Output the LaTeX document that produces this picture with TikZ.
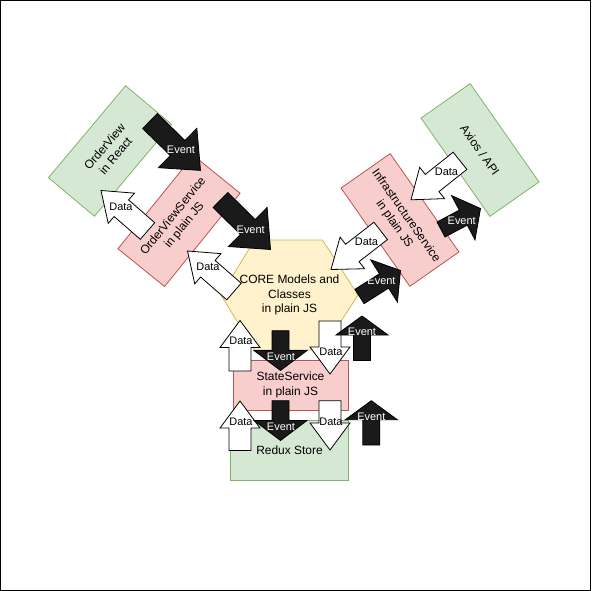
\documentclass[tikz,border=0pt]{standalone}
\usepackage{fontspec}
\setmainfont{Liberation Sans}
\usetikzlibrary{calc}
\definecolor{gfill}{HTML}{D5E8D4}
\definecolor{gline}{HTML}{82B366}
\definecolor{pfill}{HTML}{F8CECC}
\definecolor{pline}{HTML}{B85450}
\definecolor{yfill}{HTML}{FFF2CC}
\definecolor{yline}{HTML}{D6B656}
\definecolor{evblack}{HTML}{1A1A1A}
\newcommand\barrow[7]{%
  \coordinate (#2t) at (#3);
  \coordinate (#2h) at (#4);
  \coordinate (#2b) at ($(#2h)!#7bp!(#2t)$);
  \path[#1] ($(#2t)!#5bp!90:(#2h)$) -- ($(#2b)!#5bp!90:(#2h)$) -- ($(#2b)!#6bp!90:(#2h)$) -- (#2h)
    -- ($(#2b)!#6bp!-90:(#2h)$) -- ($(#2b)!#5bp!-90:(#2h)$) -- ($(#2t)!#5bp!-90:(#2h)$) -- cycle;
}
\tikzset{
  box/.style={minimum width=120bp, minimum height=60bp, inner sep=0pt, align=center, line width=0.8bp,
    font=\fontsize{12}{14.4}\selectfont},
  gbox/.style={box, fill=gfill, draw=gline},
  pbox/.style={box, fill=pfill, draw=pline},
  evt/.style={fill=evblack, draw=black, line width=0.8bp},
  dat/.style={fill=white, draw=black, line width=0.8bp},
  lab/.style={font=\fontsize{11}{13}\selectfont, inner sep=0pt},
  evlab/.style={lab, text=white},
}
\begin{document}
\begin{tikzpicture}[x=1bp,y=-1bp]
\useasboundingbox (0,0) rectangle (591,591);
\draw[line width=1bp] (0.5,0.5) rectangle (590.5,590.5);

% boxes
\node[gbox, rotate=50] (ov) at (110,151) {OrderView\\in React};
\node[pbox, rotate=51] (ovs) at (179,221) {OrderViewService\\in plain JS};
\node[gbox, rotate=-55] (axios) at (480,150) {Axios / API};
\node[pbox, rotate=-55] (infra) at (400,220) {InfrastructureService\\in plain JS};
\coordinate (corec) at (289.5,295);
\draw[fill=yfill, draw=yline, line width=0.8bp]
  ($(corec)+(-68.5,0)$) -- ($(corec)+(-35,-55)$) -- ($(corec)+(33,-55)$) -- ($(corec)+(68.5,0)$)
  -- ($(corec)+(33,55)$) -- ($(corec)+(-35,55)$) -- cycle;
\node[align=center, font=\fontsize{12}{14.4}\selectfont, inner sep=0pt] (core) at (corec) {CORE Models and\\Classes\\in plain JS};
\node[pbox, minimum width=115bp, minimum height=50bp] (state) at (290.5,385) {StateService\\in plain JS};
\node[gbox, minimum width=118bp, minimum height=60bp] (redux) at (289.5,450.3) {Redux Store};

% arrows
\barrow{evt}{a1}{150,121}{200.5,170.4}{10.5}{27.5}{32}
\barrow{dat}{a2}{147.5,231}{101,190.5}{11}{20}{27}
\barrow{evt}{a3}{220.5,200}{270.5,249.5}{10.5}{27.5}{32}
\barrow{dat}{a4}{234,291.5}{187.5,251}{11}{20}{27}
\barrow{dat}{a5}{460,160.8}{411,199.8}{11}{20}{27}
\barrow{evt}{a6}{441,229.5}{480.5,208.5}{8.5}{25}{19.5}
\barrow{dat}{a7}{380.7,230.9}{331,269.5}{11}{20}{27}
\barrow{evt}{a8}{359.5,296.5}{400.5,270.5}{8.5}{25}{19.5}
\barrow{dat}{a9}{240,371}{240,320.5}{11}{20}{27}
\barrow{evt}{a10}{280.5,330.7}{280.5,370.5}{8.5}{26.5}{20}
\barrow{dat}{a11}{330,321}{330,374}{11}{20}{27}
\barrow{evt}{a12}{362,360.5}{362,316}{8.5}{26}{19}
\barrow{dat}{a13}{240,450.5}{240,401}{11}{20}{27}
\barrow{evt}{a14}{280.5,400.7}{280.5,440.5}{8.5}{26.5}{20}
\barrow{dat}{a15}{330,400.7}{330,450}{11}{20}{27}
\barrow{evt}{a16}{371.3,445}{371.3,400.7}{8.5}{26}{19}

% labels
\node[evlab] (l1) at (181,150) {Event};
\node[lab] (l2) at (121,207) {Data};
\node[evlab] (l3) at (250.7,230) {Event};
\node[lab] (l4) at (208,267) {Data};
\node[lab] (l5) at (446.5,172) {Data};
\node[evlab] (l6) at (461.7,220.5) {Event};
\node[lab] (l7) at (366.5,242) {Data};
\node[evlab] (l8) at (381.5,281.2) {Event};
\node[lab] (l9) at (241,341) {Data};
\node[evlab] (l10) at (281,357) {Event};
\node[lab] (l11) at (331,351.3) {Data};
\node[evlab] (l12) at (362,331.5) {Event};
\node[lab] (l13) at (241,421.4) {Data};
\node[evlab] (l14) at (281,427) {Event};
\node[lab] (l15) at (331,421.4) {Data};
\node[evlab] (l16) at (371.3,416.5) {Event};
\end{tikzpicture}
\end{document}
